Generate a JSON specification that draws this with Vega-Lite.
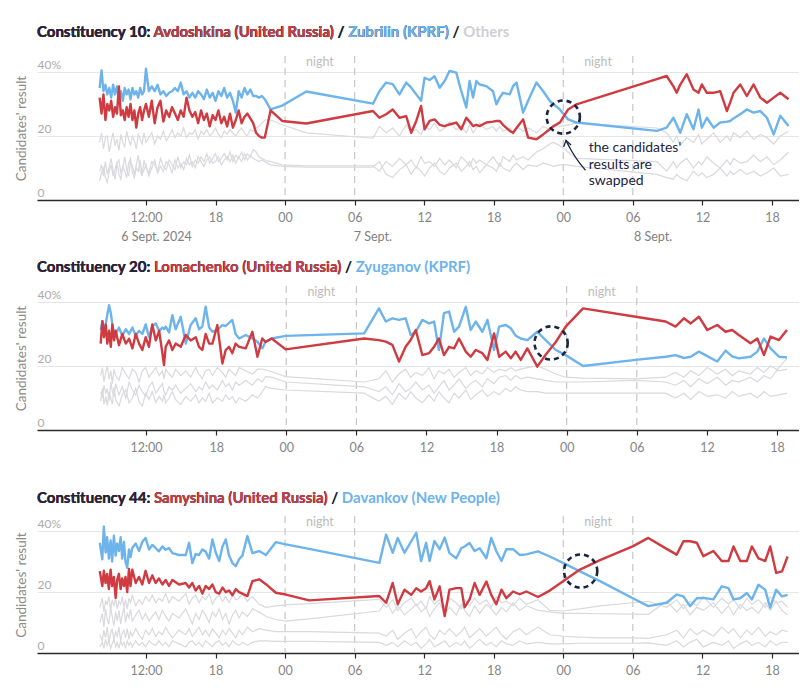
{
"$schema":"https://vega.github.io/schema/vega-lite/v6.json",
"background":"white",
"padding":{"left":14,"top":24,"right":0,"bottom":4},
"config":{"view":{"stroke":null},"font":"Lato","axis":{"labelFont":"Lato","titleFont":"Lato"},"text":{"font":"Lato"}},
"spacing":86,
"bounds":"flush",
"datasets":{
"one":[{"k":1}],
"nights":[{"t":"2024-09-07T00:00Z"},{"t":"2024-09-07T06:00Z"},{"t":"2024-09-08T00:00Z"},{"t":"2024-09-08T06:00Z"}],
"nightlbl":[{"t":"2024-09-07T03:00Z","l":"night"},{"t":"2024-09-08T03:00Z","l":"night"}],
"arr":[{"t":"2024-09-08T00:14Z","v":18.6},{"t":"2024-09-08T00:40Z","v":15.5},{"t":"2024-09-08T01:20Z","v":11.8},{"t":"2024-09-08T01:55Z","v":9.3}],
"arrh":[{"t":"2024-09-08T00:02Z","v":16.6},{"t":"2024-09-08T00:14Z","v":18.6},{"t":"2024-09-08T00:40Z","v":17.2}],
"titles":[
{"p":10,"s":"Constituency 10: Avdoshkina (United Russia) / Zubrilin (KPRF) / Others","r":"o"},
{"p":10,"s":"Constituency 10: Avdoshkina (United Russia) / Zubrilin (KPRF) /","r":"sep"},
{"p":10,"s":"Constituency 10: Avdoshkina (United Russia) / Zubrilin (KPRF)","r":"b"},
{"p":10,"s":"Constituency 10: Avdoshkina (United Russia) /","r":"sep"},
{"p":10,"s":"Constituency 10: Avdoshkina (United Russia)","r":"a"},
{"p":10,"s":"Constituency 10:","r":"head"},
{"p":20,"s":"Constituency 20: Lomachenko (United Russia) / Zyuganov (KPRF)","r":"b"},
{"p":20,"s":"Constituency 20: Lomachenko (United Russia) /","r":"sep"},
{"p":20,"s":"Constituency 20: Lomachenko (United Russia)","r":"a"},
{"p":20,"s":"Constituency 20:","r":"head"},
{"p":44,"s":"Constituency 44: Samyshina (United Russia) / Davankov (New People)","r":"b"},
{"p":44,"s":"Constituency 44: Samyshina (United Russia) /","r":"sep"},
{"p":44,"s":"Constituency 44: Samyshina (United Russia)","r":"a"},
{"p":44,"s":"Constituency 44:","r":"head"}
],
"c10":[
{"t":"2024-09-06T08:00Z","a":32,"b":35,"c":18,"d":9,"e":6},
{"t":"2024-09-06T08:10Z","a":27,"b":40.5,"c":21,"d":11,"e":8.5},
{"t":"2024-09-06T08:20Z","a":33,"b":34,"c":16,"d":7.5,"e":10},
{"t":"2024-09-06T08:30Z","a":25,"b":36,"c":19.5,"d":12,"e":7},
{"t":"2024-09-06T08:40Z","a":30,"b":33,"c":20,"d":8,"e":5.5},
{"t":"2024-09-06T08:50Z","a":28,"b":35,"c":15,"d":10.5,"e":9},
{"t":"2024-09-06T09:00Z","a":31,"b":32,"c":18.5,"d":13,"e":11},
{"t":"2024-09-06T09:10Z","a":26,"b":36,"c":21,"d":9,"e":7.5},
{"t":"2024-09-06T09:20Z","a":29,"b":33,"c":17,"d":6.5,"e":9.5},
{"t":"2024-09-06T09:30Z","a":27,"b":35.5,"c":19,"d":11.5,"e":12},
{"t":"2024-09-06T09:40Z","a":35.5,"b":32,"c":15.5,"d":12.5,"e":8},
{"t":"2024-09-06T09:50Z","a":26.5,"b":34,"c":20.5,"d":8.5,"e":6.5},
{"t":"2024-09-06T10:00Z","a":28,"b":31,"c":18,"d":10,"e":10.5},
{"t":"2024-09-06T10:10Z","a":25,"b":35,"c":16.5,"d":13.5,"e":9},
{"t":"2024-09-06T10:20Z","a":29,"b":33,"c":21.5,"d":9.5,"e":7},
{"t":"2024-09-06T10:30Z","a":26,"b":34.5,"c":19,"d":7.5,"e":11.5},
{"t":"2024-09-06T10:40Z","a":30,"b":31.5,"c":17,"d":12,"e":13},
{"t":"2024-09-06T10:50Z","a":25,"b":35,"c":20,"d":10.5,"e":8.5},
{"t":"2024-09-06T11:00Z","a":28,"b":33,"c":18.5,"d":8,"e":7},
{"t":"2024-09-06T11:10Z","a":22.6,"b":34,"c":16,"d":11,"e":10},
{"t":"2024-09-06T11:20Z","a":27,"b":32,"c":20.5,"d":14,"e":9},
{"t":"2024-09-06T11:30Z","a":29,"b":35,"c":19,"d":9,"e":12.5},
{"t":"2024-09-06T11:40Z","a":25,"b":33,"c":17.5,"d":7.5,"e":8},
{"t":"2024-09-06T11:50Z","a":28,"b":34,"c":21,"d":12.5,"e":9.5},
{"t":"2024-09-06T12:00Z","a":30,"b":41,"c":18,"d":10,"e":11},
{"t":"2024-09-06T12:15Z","a":26,"b":34,"c":19.5,"d":8.5,"e":7.5},
{"t":"2024-09-06T12:30Z","a":31,"b":35.5,"c":21,"d":12,"e":10},
{"t":"2024-09-06T12:45Z","a":24,"b":34,"c":17.5,"d":11,"e":12.5},
{"t":"2024-09-06T13:00Z","a":29,"b":36,"c":20,"d":9,"e":8.5},
{"t":"2024-09-06T13:15Z","a":31,"b":33,"c":19,"d":13,"e":10.5},
{"t":"2024-09-06T13:30Z","a":24.5,"b":34,"c":21.5,"d":10.5,"e":9},
{"t":"2024-09-06T13:45Z","a":28,"b":32.5,"c":18.5,"d":9.5,"e":12},
{"t":"2024-09-06T14:00Z","a":26,"b":33.5,"c":20,"d":12.5,"e":11},
{"t":"2024-09-06T14:15Z","a":29,"b":34,"c":22,"d":11,"e":8.5},
{"t":"2024-09-06T14:30Z","a":27,"b":35,"c":19.5,"d":9.5,"e":12.5},
{"t":"2024-09-06T14:45Z","a":25,"b":34,"c":21,"d":13.5,"e":10},
{"t":"2024-09-06T15:00Z","a":28,"b":36.7,"c":20,"d":10,"e":11.5},
{"t":"2024-09-06T15:15Z","a":26,"b":33,"c":22.5,"d":12,"e":9.5},
{"t":"2024-09-06T15:30Z","a":32,"b":34,"c":19.5,"d":11,"e":13},
{"t":"2024-09-06T15:45Z","a":28,"b":32,"c":21,"d":14,"e":11},
{"t":"2024-09-06T16:00Z","a":26,"b":33.5,"c":20.5,"d":10.5,"e":12},
{"t":"2024-09-06T16:15Z","a":27.5,"b":32,"c":22,"d":12.5,"e":10},
{"t":"2024-09-06T16:30Z","a":24,"b":34,"c":19,"d":11.5,"e":13.5},
{"t":"2024-09-06T16:45Z","a":28,"b":33,"c":21.5,"d":13.5,"e":12},
{"t":"2024-09-06T17:00Z","a":25,"b":31.5,"c":20.5,"d":12,"e":10.5},
{"t":"2024-09-06T17:15Z","a":27,"b":34.5,"c":22,"d":14.5,"e":12.5},
{"t":"2024-09-06T17:30Z","a":23,"b":32,"c":20,"d":11.5,"e":13.5},
{"t":"2024-09-06T17:45Z","a":26.5,"b":33.5,"c":21,"d":13,"e":11.5},
{"t":"2024-09-06T18:00Z","a":25,"b":31,"c":22.5,"d":14.5,"e":12},
{"t":"2024-09-06T18:15Z","a":28,"b":34,"c":20.5,"d":12,"e":13.5},
{"t":"2024-09-06T18:30Z","a":24,"b":32.5,"c":19.5,"d":13,"e":11},
{"t":"2024-09-06T18:45Z","a":26,"b":35,"c":21.5,"d":14.5,"e":12.5},
{"t":"2024-09-06T19:00Z","a":23,"b":32,"c":20.5,"d":12.5,"e":13.5},
{"t":"2024-09-06T19:15Z","a":27,"b":33.5,"c":22,"d":15,"e":12},
{"t":"2024-09-06T19:30Z","a":22.6,"b":31,"c":21,"d":12,"e":14},
{"t":"2024-09-06T19:45Z","a":25,"b":27.3,"c":20,"d":14,"e":11.5},
{"t":"2024-09-06T20:00Z","a":28,"b":34,"c":21.5,"d":13,"e":13.5},
{"t":"2024-09-06T20:15Z","a":24,"b":32,"c":22.5,"d":15,"e":12},
{"t":"2024-09-06T20:30Z","a":26,"b":35,"c":21,"d":12.5,"e":14.5},
{"t":"2024-09-06T20:45Z","a":27,"b":33,"c":20,"d":14.5,"e":12.5},
{"t":"2024-09-06T21:00Z","a":25.5,"b":34.5,"c":22,"d":13.5,"e":14},
{"t":"2024-09-06T21:15Z","a":24,"b":32.5,"c":21.5,"d":15.8,"e":13},
{"t":"2024-09-06T21:30Z","a":21,"b":32.5,"c":22.5,"d":15,"e":12.5},
{"t":"2024-09-06T21:45Z","a":20,"b":32,"c":23,"d":13.5,"e":12},
{"t":"2024-09-06T22:00Z","a":19.5,"b":32.5,"c":24,"d":13,"e":12.5},
{"t":"2024-09-06T22:15Z","a":19.5,"b":31.5,"c":25,"d":12.5,"e":12},
{"t":"2024-09-06T22:45Z","a":28,"b":28.3,"c":25,"d":12,"e":11},
{"t":"2024-09-06T23:45Z","a":24.7,"b":29.5,"c":23.5,"d":11,"e":10.5},
{"t":"2024-09-07T01:50Z","a":23.9,"b":33.9,"c":21,"d":10.7,"e":10.3},
{"t":"2024-09-07T07:35Z","a":27.8,"b":30.1,"c":19.3,"d":10.7,"e":10.3},
{"t":"2024-09-07T08:08Z","a":25.7,"b":34,"c":23,"d":9,"e":12},
{"t":"2024-09-07T08:43Z","a":26.8,"b":36.7,"c":21,"d":12,"e":8},
{"t":"2024-09-07T09:17Z","a":28.3,"b":36.2,"c":22.5,"d":10.5,"e":7},
{"t":"2024-09-07T09:52Z","a":25.7,"b":33,"c":20,"d":13,"e":9.5},
{"t":"2024-09-07T10:27Z","a":26.2,"b":36.7,"c":23.5,"d":11,"e":11},
{"t":"2024-09-07T10:53Z","a":21,"b":35.1,"c":21.5,"d":12.5,"e":8},
{"t":"2024-09-07T11:19Z","a":24.7,"b":33,"c":22,"d":10,"e":10.5},
{"t":"2024-09-07T11:44Z","a":29.4,"b":31,"c":20.5,"d":13.5,"e":9},
{"t":"2024-09-07T12:02Z","a":22.1,"b":38.2,"c":23,"d":11.5,"e":7.5},
{"t":"2024-09-07T12:28Z","a":24.7,"b":37.5,"c":22,"d":12,"e":10},
{"t":"2024-09-07T12:54Z","a":25.2,"b":38.7,"c":24,"d":10.5,"e":11.5},
{"t":"2024-09-07T13:20Z","a":23.5,"b":35.1,"c":21.5,"d":13,"e":9},
{"t":"2024-09-07T13:46Z","a":23.1,"b":37.2,"c":22.5,"d":11,"e":8},
{"t":"2024-09-07T14:11Z","a":23.6,"b":40.3,"c":24.5,"d":12.5,"e":10},
{"t":"2024-09-07T14:46Z","a":24.2,"b":39.8,"c":22,"d":10,"e":11.5},
{"t":"2024-09-07T15:12Z","a":22.1,"b":34,"c":23,"d":13.5,"e":9},
{"t":"2024-09-07T15:38Z","a":25.7,"b":28.9,"c":21,"d":12,"e":10.5},
{"t":"2024-09-07T15:55Z","a":24.5,"b":37.2,"c":23.5,"d":10.5,"e":12},
{"t":"2024-09-07T16:13Z","a":23.1,"b":32,"c":21,"d":13,"e":9.5},
{"t":"2024-09-07T16:30Z","a":23.5,"b":37.2,"c":22.5,"d":11.5,"e":10.5},
{"t":"2024-09-07T16:47Z","a":23.1,"b":36.1,"c":24,"d":12.5,"e":8.5},
{"t":"2024-09-07T17:22Z","a":24.2,"b":35.6,"c":22,"d":11,"e":11},
{"t":"2024-09-07T17:56Z","a":24.5,"b":34,"c":23,"d":13.5,"e":10},
{"t":"2024-09-07T18:14Z","a":24.7,"b":29.9,"c":21.5,"d":12,"e":9},
{"t":"2024-09-07T18:31Z","a":24.7,"b":32,"c":23,"d":10.5,"e":11.5},
{"t":"2024-09-07T18:48Z","a":23.5,"b":33.5,"c":21.5,"d":13.5,"e":10},
{"t":"2024-09-07T19:23Z","a":21.6,"b":33,"c":22.5,"d":12,"e":9},
{"t":"2024-09-07T19:40Z","a":21,"b":35.6,"c":20.5,"d":14,"e":10.5},
{"t":"2024-09-07T19:58Z","a":22.5,"b":36.7,"c":23,"d":12.5,"e":11.5},
{"t":"2024-09-07T20:32Z","a":25.2,"b":27.3,"c":21.5,"d":13.5,"e":9.5},
{"t":"2024-09-07T20:58Z","a":19.5,"b":31,"c":22.5,"d":12.5,"e":11},
{"t":"2024-09-07T21:41Z","a":19,"b":36.7,"c":21,"d":15,"e":10.5},
{"t":"2024-09-07T22:16Z","a":20.5,"b":34,"c":23,"d":16,"e":11.5},
{"t":"2024-09-07T22:50Z","a":22.1,"b":31,"c":22,"d":17.5,"e":11},
{"t":"2024-09-07T23:08Z","a":23,"b":30,"c":23.5,"d":18,"e":10.5},
{"t":"2024-09-07T23:42Z","a":24.2,"b":28.3,"c":23,"d":17,"e":11},
{"t":"2024-09-08T00:25Z","a":28.3,"b":25.2,"c":23.5,"d":15,"e":11},
{"t":"2024-09-08T01:08Z","a":29.9,"b":24.2,"c":24,"d":13,"e":10.5},
{"t":"2024-09-08T08:04Z","a":37.8,"b":21.6,"c":22.5,"d":12,"e":8},
{"t":"2024-09-08T08:55Z","a":38.75,"b":22.6,"c":21,"d":9,"e":7},
{"t":"2024-09-08T09:30Z","a":35.5,"b":25.7,"c":18,"d":12,"e":6.5},
{"t":"2024-09-08T09:47Z","a":33.5,"b":23.5,"c":20,"d":10,"e":8},
{"t":"2024-09-08T10:05Z","a":36,"b":21,"c":17,"d":11.5,"e":7},
{"t":"2024-09-08T10:39Z","a":39.3,"b":26.8,"c":19.5,"d":13,"e":6},
{"t":"2024-09-08T11:14Z","a":34.5,"b":22.1,"c":18,"d":10,"e":9},
{"t":"2024-09-08T11:40Z","a":33.5,"b":28.3,"c":20.5,"d":12,"e":7.5},
{"t":"2024-09-08T11:57Z","a":36.1,"b":22.6,"c":17.5,"d":11,"e":8.5},
{"t":"2024-09-08T12:23Z","a":33.5,"b":25.7,"c":19,"d":13.5,"e":7},
{"t":"2024-09-08T12:58Z","a":33.5,"b":22.6,"c":21,"d":11.5,"e":8},
{"t":"2024-09-08T13:32Z","a":34,"b":24.2,"c":18,"d":10,"e":10},
{"t":"2024-09-08T14:07Z","a":27.8,"b":24.5,"c":20,"d":12.5,"e":7.5},
{"t":"2024-09-08T14:24Z","a":30.5,"b":24.7,"c":18.5,"d":11,"e":9},
{"t":"2024-09-08T14:41Z","a":33.5,"b":25.5,"c":21,"d":13,"e":8},
{"t":"2024-09-08T15:16Z","a":36.1,"b":26.8,"c":19.5,"d":11.5,"e":9.5},
{"t":"2024-09-08T15:50Z","a":32.5,"b":28.3,"c":21.5,"d":12,"e":8},
{"t":"2024-09-08T16:25Z","a":36.1,"b":27.3,"c":19,"d":14,"e":9},
{"t":"2024-09-08T17:00Z","a":32,"b":27.8,"c":20.5,"d":12,"e":7.5},
{"t":"2024-09-08T17:34Z","a":30.4,"b":25.7,"c":19.5,"d":13.5,"e":8.5},
{"t":"2024-09-08T18:09Z","a":32,"b":20.5,"c":17.5,"d":11,"e":10},
{"t":"2024-09-08T18:43Z","a":33.5,"b":26.3,"c":20,"d":12.5,"e":7.5},
{"t":"2024-09-08T19:26Z","a":31.5,"b":23.1,"c":21.5,"d":15,"e":8}
],
"c20":[
{"t":"2024-09-06T08:07Z","a":27,"b":31.25,"c":17,"d":12,"e":9},
{"t":"2024-09-06T08:16Z","a":34,"b":34,"c":19.5,"d":10,"e":13},
{"t":"2024-09-06T08:24Z","a":29,"b":30,"c":15,"d":14,"e":8},
{"t":"2024-09-06T08:33Z","a":33,"b":33,"c":18,"d":11.5,"e":10.5},
{"t":"2024-09-06T08:41Z","a":27,"b":36,"c":20,"d":13,"e":7.5},
{"t":"2024-09-06T08:50Z","a":31,"b":39,"c":16,"d":9,"e":12},
{"t":"2024-09-06T08:59Z","a":26,"b":36.5,"c":18.5,"d":15,"e":10},
{"t":"2024-09-06T09:07Z","a":33,"b":33,"c":14.5,"d":12,"e":8},
{"t":"2024-09-06T09:16Z","a":28,"b":30.5,"c":19,"d":10.5,"e":13.5},
{"t":"2024-09-06T09:24Z","a":31,"b":30,"c":17,"d":14.5,"e":9.5},
{"t":"2024-09-06T09:41Z","a":26.5,"b":32,"c":15.5,"d":11,"e":7.5},
{"t":"2024-09-06T09:58Z","a":30,"b":29.5,"c":19.5,"d":13.5,"e":11},
{"t":"2024-09-06T10:16Z","a":27,"b":31.5,"c":17.5,"d":10,"e":12.5},
{"t":"2024-09-06T10:33Z","a":28.5,"b":30,"c":16,"d":15,"e":8.5},
{"t":"2024-09-06T10:50Z","a":25.5,"b":32,"c":19,"d":12.5,"e":10},
{"t":"2024-09-06T11:07Z","a":30,"b":29.5,"c":18,"d":11,"e":13},
{"t":"2024-09-06T11:24Z","a":27,"b":31,"c":15,"d":14,"e":9},
{"t":"2024-09-06T11:41Z","a":25,"b":30,"c":18.5,"d":12,"e":7.5},
{"t":"2024-09-06T11:58Z","a":29,"b":33,"c":19.5,"d":10.5,"e":11.5},
{"t":"2024-09-06T12:15Z","a":26,"b":29,"c":16.5,"d":13.5,"e":9.5},
{"t":"2024-09-06T12:32Z","a":33,"b":32.5,"c":18,"d":15,"e":12},
{"t":"2024-09-06T12:50Z","a":28,"b":33.3,"c":19.5,"d":11.5,"e":8.5},
{"t":"2024-09-06T13:07Z","a":31,"b":31,"c":17,"d":13,"e":10.5},
{"t":"2024-09-06T13:24Z","a":24,"b":32,"c":18.5,"d":14.5,"e":9},
{"t":"2024-09-06T13:32Z","a":20.3,"b":31.5,"c":16,"d":12,"e":11},
{"t":"2024-09-06T13:41Z","a":26,"b":32.3,"c":19,"d":11,"e":8.5},
{"t":"2024-09-06T13:58Z","a":28,"b":30.5,"c":17.5,"d":13.5,"e":10},
{"t":"2024-09-06T14:15Z","a":25,"b":35.9,"c":16.5,"d":12.5,"e":12},
{"t":"2024-09-06T14:32Z","a":27,"b":31.5,"c":19,"d":14,"e":9.5},
{"t":"2024-09-06T14:58Z","a":26,"b":35.4,"c":17,"d":11.5,"e":8},
{"t":"2024-09-06T15:24Z","a":29.7,"b":27,"c":18.5,"d":13,"e":10.5},
{"t":"2024-09-06T15:49Z","a":28,"b":32.8,"c":16.5,"d":14.5,"e":9},
{"t":"2024-09-06T16:15Z","a":29,"b":34.9,"c":19.5,"d":12,"e":11},
{"t":"2024-09-06T16:32Z","a":26,"b":31.5,"c":17.5,"d":13.5,"e":8.5},
{"t":"2024-09-06T16:49Z","a":25,"b":32.3,"c":16,"d":12.5,"e":10},
{"t":"2024-09-06T17:06Z","a":30,"b":38.5,"c":18.5,"d":15,"e":9},
{"t":"2024-09-06T17:24Z","a":27,"b":32,"c":19,"d":13,"e":11.5},
{"t":"2024-09-06T17:41Z","a":27,"b":30.7,"c":17,"d":14,"e":8.5},
{"t":"2024-09-06T18:06Z","a":32.8,"b":31.25,"c":19.5,"d":12.5,"e":10},
{"t":"2024-09-06T18:32Z","a":20.8,"b":32.8,"c":18,"d":15.5,"e":9},
{"t":"2024-09-06T18:49Z","a":25,"b":32.5,"c":16.5,"d":13.5,"e":11},
{"t":"2024-09-06T19:06Z","a":26,"b":33.5,"c":19,"d":14.5,"e":9.5},
{"t":"2024-09-06T19:23Z","a":24,"b":34.4,"c":18,"d":12.5,"e":10.5},
{"t":"2024-09-06T19:40Z","a":27,"b":30,"c":17,"d":15,"e":8.5},
{"t":"2024-09-06T19:58Z","a":26,"b":28.6,"c":19.5,"d":14,"e":10},
{"t":"2024-09-06T20:32Z","a":25.5,"b":29.7,"c":18.5,"d":15.5,"e":9},
{"t":"2024-09-06T21:06Z","a":30.7,"b":28.6,"c":17.5,"d":14,"e":11},
{"t":"2024-09-06T21:32Z","a":22.9,"b":27.6,"c":19,"d":16,"e":10},
{"t":"2024-09-06T21:57Z","a":28.6,"b":25.5,"c":19,"d":15,"e":12},
{"t":"2024-09-06T22:14Z","a":27.5,"b":27.6,"c":18.75,"d":16.7,"e":13.5},
{"t":"2024-09-06T22:45Z","a":28.6,"b":28.6,"c":18.2,"d":16.5,"e":13},
{"t":"2024-09-06T23:57Z","a":25.2,"b":29.4,"c":16.7,"d":15,"e":12.5},
{"t":"2024-09-07T06:40Z","a":28.6,"b":30.2,"c":15,"d":13.5,"e":11.5},
{"t":"2024-09-07T07:56Z","a":28.1,"b":38,"c":16,"d":12,"e":9},
{"t":"2024-09-07T08:31Z","a":27.6,"b":33.9,"c":18.5,"d":13.5,"e":10.5},
{"t":"2024-09-07T09:05Z","a":26.6,"b":34.9,"c":15,"d":11,"e":8},
{"t":"2024-09-07T09:39Z","a":21.4,"b":34.4,"c":17.5,"d":14.5,"e":11.5},
{"t":"2024-09-07T10:13Z","a":26,"b":34.9,"c":19,"d":12,"e":9.5},
{"t":"2024-09-07T10:39Z","a":28.1,"b":29.7,"c":16.5,"d":13,"e":12},
{"t":"2024-09-07T11:05Z","a":31.25,"b":30.7,"c":18,"d":15,"e":10},
{"t":"2024-09-07T11:39Z","a":23.4,"b":34.4,"c":17,"d":12.5,"e":8.5},
{"t":"2024-09-07T12:13Z","a":24,"b":33.3,"c":19.5,"d":14,"e":11},
{"t":"2024-09-07T12:39Z","a":26,"b":33.9,"c":16,"d":11.5,"e":9},
{"t":"2024-09-07T13:04Z","a":28.6,"b":25,"c":18.5,"d":13.5,"e":12},
{"t":"2024-09-07T13:30Z","a":23.4,"b":36.5,"c":17.5,"d":15.5,"e":10},
{"t":"2024-09-07T13:56Z","a":26,"b":37,"c":19,"d":12.5,"e":8.5},
{"t":"2024-09-07T14:22Z","a":25.5,"b":30.7,"c":16.5,"d":14,"e":11.5},
{"t":"2024-09-07T14:47Z","a":28.6,"b":32.3,"c":18,"d":16,"e":10},
{"t":"2024-09-07T15:22Z","a":24.5,"b":38.5,"c":19.5,"d":13,"e":12.5},
{"t":"2024-09-07T15:47Z","a":22.9,"b":31.25,"c":17,"d":14.5,"e":9.5},
{"t":"2024-09-07T16:13Z","a":25,"b":33.9,"c":18.5,"d":15.5,"e":11},
{"t":"2024-09-07T16:47Z","a":24,"b":30.7,"c":17.5,"d":13.5,"e":12.5},
{"t":"2024-09-07T17:13Z","a":21.9,"b":34.4,"c":19.5,"d":16,"e":10.5},
{"t":"2024-09-07T17:47Z","a":30.2,"b":25,"c":18,"d":14.5,"e":12},
{"t":"2024-09-07T18:13Z","a":22.9,"b":32.3,"c":19,"d":16.5,"e":11},
{"t":"2024-09-07T18:47Z","a":24.5,"b":32.8,"c":18.5,"d":17,"e":13},
{"t":"2024-09-07T19:13Z","a":22.4,"b":31.8,"c":19.5,"d":15.5,"e":12},
{"t":"2024-09-07T19:38Z","a":24.5,"b":29.5,"c":18.5,"d":17,"e":13.5},
{"t":"2024-09-07T20:04Z","a":21.9,"b":28.6,"c":19,"d":16,"e":12.5},
{"t":"2024-09-07T20:38Z","a":25.5,"b":28.1,"c":19.5,"d":16.5,"e":12},
{"t":"2024-09-07T21:29Z","a":19.8,"b":30.7,"c":20,"d":16,"e":12},
{"t":"2024-09-07T22:12Z","a":23.5,"b":28.1,"c":19,"d":15.5,"e":11.5},
{"t":"2024-09-07T23:04Z","a":27.5,"b":25,"c":17.5,"d":15,"e":11.5},
{"t":"2024-09-07T23:55Z","a":32.3,"b":23.4,"c":16.5,"d":15,"e":11.5},
{"t":"2024-09-08T01:24Z","a":38,"b":20,"c":16.2,"d":15,"e":11.5},
{"t":"2024-09-08T05:54Z","a":35.4,"b":21.9,"c":16,"d":15.5,"e":11.5},
{"t":"2024-09-08T08:28Z","a":33.9,"b":22.9,"c":16.5,"d":15,"e":11.5},
{"t":"2024-09-08T09:19Z","a":32.3,"b":23.4,"c":18,"d":14,"e":10},
{"t":"2024-09-08T10:02Z","a":34.9,"b":22.5,"c":16.5,"d":15.5,"e":11.5},
{"t":"2024-09-08T10:37Z","a":33.3,"b":22.9,"c":18.5,"d":13.5,"e":9.5},
{"t":"2024-09-08T11:19Z","a":35.4,"b":24.5,"c":17,"d":16,"e":12},
{"t":"2024-09-08T12:02Z","a":31.25,"b":23.1,"c":19.5,"d":14.5,"e":10.5},
{"t":"2024-09-08T12:53Z","a":32.8,"b":21.4,"c":17.5,"d":16.5,"e":11},
{"t":"2024-09-08T13:36Z","a":30.7,"b":24.8,"c":19,"d":14,"e":10},
{"t":"2024-09-08T14:10Z","a":31.25,"b":23,"c":17,"d":15.5,"e":12},
{"t":"2024-09-08T14:44Z","a":29.7,"b":22.4,"c":18.5,"d":15,"e":10.5},
{"t":"2024-09-08T15:44Z","a":27.1,"b":22.9,"c":17.5,"d":16.5,"e":11.5},
{"t":"2024-09-08T16:19Z","a":28.6,"b":24.5,"c":19.5,"d":15,"e":10},
{"t":"2024-09-08T16:53Z","a":23.4,"b":28.6,"c":18,"d":17,"e":12},
{"t":"2024-09-08T17:27Z","a":29.2,"b":25.5,"c":20,"d":16,"e":10.5},
{"t":"2024-09-08T18:10Z","a":28.1,"b":22.9,"c":18.5,"d":19.5,"e":11},
{"t":"2024-09-08T18:51Z","a":31.25,"b":22.7,"c":19,"d":22.4,"e":11.5}
],
"c44":[
{"t":"2024-09-06T08:01Z","a":26.9,"b":36.2,"c":15,"d":10,"e":6,"f":2},
{"t":"2024-09-06T08:14Z","a":22,"b":30.8,"c":18,"d":13,"e":4,"f":3.5},
{"t":"2024-09-06T08:22Z","a":27,"b":41.6,"c":13.5,"d":8.5,"e":7.5,"f":1.5},
{"t":"2024-09-06T08:31Z","a":23,"b":33,"c":17,"d":14.5,"e":5,"f":4.5},
{"t":"2024-09-06T08:39Z","a":26,"b":38,"c":16,"d":11,"e":8.5,"f":2.5},
{"t":"2024-09-06T08:48Z","a":21,"b":31,"c":18.5,"d":9.5,"e":3.5,"f":4},
{"t":"2024-09-06T08:57Z","a":27.4,"b":37,"c":14,"d":15,"e":6.5,"f":1.5},
{"t":"2024-09-06T09:05Z","a":22,"b":30,"c":17.5,"d":12,"e":8,"f":3},
{"t":"2024-09-06T09:14Z","a":25,"b":38.5,"c":15.5,"d":9,"e":4.5,"f":4.5},
{"t":"2024-09-06T09:23Z","a":18.1,"b":32,"c":18,"d":13.5,"e":7,"f":2},
{"t":"2024-09-06T09:31Z","a":24,"b":36,"c":14.5,"d":10.5,"e":5.5,"f":3.5},
{"t":"2024-09-06T09:40Z","a":26,"b":33.5,"c":17,"d":14,"e":8.5,"f":1.5},
{"t":"2024-09-06T09:49Z","a":21,"b":38,"c":16,"d":9.5,"e":4,"f":4},
{"t":"2024-09-06T09:57Z","a":24.5,"b":31,"c":18.5,"d":12.5,"e":6.5,"f":2.5},
{"t":"2024-09-06T10:06Z","a":22,"b":36.5,"c":15,"d":15,"e":7.5,"f":3.5},
{"t":"2024-09-06T10:14Z","a":25,"b":30,"c":17.5,"d":10,"e":5,"f":1.5},
{"t":"2024-09-06T10:23Z","a":20,"b":28,"c":14.5,"d":13,"e":8,"f":4},
{"t":"2024-09-06T10:32Z","a":27.6,"b":34,"c":18,"d":11.5,"e":4.5,"f":2.5},
{"t":"2024-09-06T10:40Z","a":22,"b":31.5,"c":16.5,"d":14.5,"e":7,"f":3.5},
{"t":"2024-09-06T10:49Z","a":27.4,"b":34.5,"c":19,"d":10.5,"e":5.5,"f":2},
{"t":"2024-09-06T11:07Z","a":23,"b":36,"c":15.5,"d":12.5,"e":8,"f":4},
{"t":"2024-09-06T11:24Z","a":25,"b":33.5,"c":17.5,"d":14,"e":6,"f":2.5},
{"t":"2024-09-06T11:41Z","a":22.5,"b":36.5,"c":16,"d":11,"e":4.5,"f":3.5},
{"t":"2024-09-06T11:58Z","a":27,"b":37.8,"c":18.5,"d":13,"e":7.5,"f":2},
{"t":"2024-09-06T12:16Z","a":23,"b":34,"c":17,"d":10.5,"e":6,"f":4},
{"t":"2024-09-06T12:33Z","a":25.5,"b":35.5,"c":19,"d":12,"e":8,"f":3},
{"t":"2024-09-06T12:50Z","a":23,"b":34.5,"c":16.5,"d":13.5,"e":5.5,"f":2.5},
{"t":"2024-09-06T13:07Z","a":24.5,"b":33.4,"c":18,"d":11,"e":7,"f":4},
{"t":"2024-09-06T13:25Z","a":22.5,"b":35,"c":17,"d":14,"e":6,"f":2.5},
{"t":"2024-09-06T13:42Z","a":24,"b":33.9,"c":19.5,"d":12,"e":8.5,"f":3.5},
{"t":"2024-09-06T13:59Z","a":22,"b":34.5,"c":16.5,"d":10.5,"e":6.5,"f":2},
{"t":"2024-09-06T14:17Z","a":24,"b":32.8,"c":18.5,"d":13,"e":5,"f":4},
{"t":"2024-09-06T14:51Z","a":22.5,"b":32.2,"c":17,"d":11.5,"e":7.5,"f":3},
{"t":"2024-09-06T15:26Z","a":23,"b":32.2,"c":19.5,"d":14.5,"e":6,"f":2},
{"t":"2024-09-06T15:43Z","a":21.5,"b":36.2,"c":16,"d":12,"e":8,"f":3.5},
{"t":"2024-09-06T16:00Z","a":23,"b":29.5,"c":18,"d":9.5,"e":5.5,"f":4},
{"t":"2024-09-06T16:17Z","a":20.5,"b":32.5,"c":19,"d":13,"e":7,"f":2.5},
{"t":"2024-09-06T16:35Z","a":22,"b":32.2,"c":16.5,"d":11,"e":8.5,"f":3.5},
{"t":"2024-09-06T16:52Z","a":19.5,"b":34,"c":18.5,"d":14,"e":6,"f":2},
{"t":"2024-09-06T17:09Z","a":22,"b":33.3,"c":17.5,"d":12.5,"e":7.5,"f":4},
{"t":"2024-09-06T17:27Z","a":21,"b":31,"c":19.5,"d":10,"e":5.5,"f":3},
{"t":"2024-09-06T17:44Z","a":22.5,"b":37.3,"c":16,"d":13.5,"e":8,"f":2},
{"t":"2024-09-06T18:01Z","a":20,"b":33,"c":18,"d":12,"e":6.5,"f":3.5},
{"t":"2024-09-06T18:19Z","a":19.5,"b":30.2,"c":19,"d":14.5,"e":5,"f":4},
{"t":"2024-09-06T18:36Z","a":21.5,"b":35,"c":17,"d":11,"e":7.5,"f":2.5},
{"t":"2024-09-06T18:53Z","a":20,"b":37.3,"c":18.5,"d":13,"e":6,"f":3.5},
{"t":"2024-09-06T19:10Z","a":20.5,"b":32,"c":16.5,"d":9.5,"e":8,"f":2},
{"t":"2024-09-06T19:28Z","a":19,"b":29.5,"c":19,"d":12.5,"e":6.5,"f":4},
{"t":"2024-09-06T19:45Z","a":21,"b":28.5,"c":17.5,"d":14,"e":5,"f":3},
{"t":"2024-09-06T20:02Z","a":20,"b":30.8,"c":18,"d":11.5,"e":7.5,"f":2.5},
{"t":"2024-09-06T20:19Z","a":19.5,"b":32,"c":19.5,"d":13.5,"e":6,"f":3.5},
{"t":"2024-09-06T20:45Z","a":18.7,"b":38.4,"c":17,"d":12,"e":8.5,"f":2.5},
{"t":"2024-09-06T21:11Z","a":23.6,"b":32.8,"c":18.5,"d":14.5,"e":7,"f":3.5},
{"t":"2024-09-06T21:46Z","a":24.2,"b":33.5,"c":16,"d":13.5,"e":8,"f":4},
{"t":"2024-09-06T22:21Z","a":22.6,"b":32.2,"c":15,"d":12,"e":7.5,"f":4},
{"t":"2024-09-06T23:12Z","a":19.8,"b":36.4,"c":15.5,"d":11,"e":7,"f":3.8},
{"t":"2024-09-07T00:04Z","a":19.2,"b":35.7,"c":15.8,"d":10.5,"e":7,"f":3.8},
{"t":"2024-09-07T02:05Z","a":17.3,"b":34.2,"c":16.2,"d":11.2,"e":7,"f":3.8},
{"t":"2024-09-07T08:08Z","a":18.7,"b":29.6,"c":17.6,"d":13.8,"e":6.5,"f":3.5},
{"t":"2024-09-07T08:43Z","a":16.5,"b":38.9,"c":15,"d":17,"e":5.5,"f":2.5},
{"t":"2024-09-07T09:17Z","a":23,"b":32.9,"c":17.5,"d":13,"e":7.5,"f":3.5},
{"t":"2024-09-07T09:43Z","a":16,"b":37.8,"c":14,"d":15.5,"e":4.5,"f":2},
{"t":"2024-09-07T10:18Z","a":20.8,"b":32.9,"c":16.5,"d":12.5,"e":6.5,"f":4},
{"t":"2024-09-07T10:53Z","a":19.1,"b":36.7,"c":18,"d":14.5,"e":8,"f":2.5},
{"t":"2024-09-07T11:19Z","a":21.3,"b":39.5,"c":15.5,"d":16,"e":5,"f":3.5},
{"t":"2024-09-07T11:44Z","a":20.2,"b":30.2,"c":17,"d":13.5,"e":7,"f":1.5},
{"t":"2024-09-07T12:10Z","a":21.3,"b":36.2,"c":14.5,"d":15,"e":8.5,"f":3},
{"t":"2024-09-07T12:28Z","a":23.6,"b":30.2,"c":18.5,"d":12,"e":6,"f":4.5},
{"t":"2024-09-07T12:53Z","a":17.6,"b":36.8,"c":16,"d":14.5,"e":4.5,"f":2},
{"t":"2024-09-07T13:20Z","a":21.9,"b":34.1,"c":17.5,"d":16.5,"e":7.5,"f":3},
{"t":"2024-09-07T13:46Z","a":12.1,"b":37.9,"c":15,"d":13,"e":6,"f":4},
{"t":"2024-09-07T14:11Z","a":20.8,"b":32.8,"c":18,"d":15,"e":8,"f":2},
{"t":"2024-09-07T14:46Z","a":21.3,"b":31.1,"c":16.5,"d":12.5,"e":5.5,"f":3.5},
{"t":"2024-09-07T15:12Z","a":21.3,"b":34.4,"c":14.5,"d":16,"e":7,"f":2.5},
{"t":"2024-09-07T15:29Z","a":15,"b":35,"c":17.5,"d":14,"e":8.5,"f":4},
{"t":"2024-09-07T15:55Z","a":17.6,"b":36.1,"c":15.5,"d":12,"e":5,"f":1.5},
{"t":"2024-09-07T16:21Z","a":23,"b":33.5,"c":18,"d":15.5,"e":6.5,"f":3},
{"t":"2024-09-07T16:47Z","a":19.1,"b":34.4,"c":16,"d":13,"e":8,"f":4.5},
{"t":"2024-09-07T17:22Z","a":23.5,"b":31.1,"c":17.5,"d":16,"e":5.5,"f":2.5},
{"t":"2024-09-07T17:47Z","a":19.1,"b":37.8,"c":15,"d":14.5,"e":7,"f":3.5},
{"t":"2024-09-07T18:13Z","a":16,"b":33.5,"c":18.5,"d":12.5,"e":8.5,"f":2},
{"t":"2024-09-07T18:40Z","a":20.8,"b":30.2,"c":16.5,"d":15,"e":6,"f":4},
{"t":"2024-09-07T19:05Z","a":18,"b":34.1,"c":17,"d":13.5,"e":4.5,"f":3},
{"t":"2024-09-07T19:40Z","a":20.2,"b":34.1,"c":15.5,"d":16.5,"e":7,"f":2.5},
{"t":"2024-09-07T20:14Z","a":19.3,"b":32.2,"c":18,"d":14,"e":8,"f":4},
{"t":"2024-09-07T20:49Z","a":20.2,"b":32.4,"c":16,"d":15.5,"e":6,"f":3},
{"t":"2024-09-07T21:49Z","a":18.4,"b":33.4,"c":17.5,"d":14,"e":8.5,"f":3.5},
{"t":"2024-09-07T22:50Z","a":20.5,"b":31.7,"c":14,"d":13.5,"e":6,"f":3},
{"t":"2024-09-07T23:59Z","a":23.6,"b":29.6,"c":13.8,"d":13,"e":5.5,"f":3},
{"t":"2024-09-08T01:26Z","a":27.4,"b":26.8,"c":14.5,"d":13,"e":5.2,"f":3.2},
{"t":"2024-09-08T03:10Z","a":30.5,"b":23.6,"c":15.5,"d":12.9,"e":5,"f":3.2},
{"t":"2024-09-08T06:02Z","a":35.1,"b":17.9,"c":16.5,"d":12.8,"e":5,"f":3.2},
{"t":"2024-09-08T07:20Z","a":37.8,"b":15.4,"c":17,"d":12.7,"e":4.8,"f":3.3},
{"t":"2024-09-08T08:55Z","a":34.2,"b":16.5,"c":15,"d":17,"e":6,"f":2.5},
{"t":"2024-09-08T09:47Z","a":32.3,"b":19.2,"c":17.5,"d":13.5,"e":7.5,"f":4},
{"t":"2024-09-08T10:22Z","a":36.7,"b":18.6,"c":14.5,"d":16,"e":5,"f":2},
{"t":"2024-09-08T10:56Z","a":36.7,"b":15.4,"c":17,"d":12.5,"e":8,"f":3.5},
{"t":"2024-09-08T11:31Z","a":36.2,"b":18,"c":15.5,"d":15,"e":6,"f":4.5},
{"t":"2024-09-08T12:05Z","a":31.8,"b":18.1,"c":18.5,"d":14,"e":7.5,"f":2},
{"t":"2024-09-08T12:57Z","a":33.5,"b":17.6,"c":15,"d":16.5,"e":5.5,"f":3.5},
{"t":"2024-09-08T13:40Z","a":30.2,"b":21.9,"c":18,"d":13,"e":8.5,"f":2.5},
{"t":"2024-09-08T14:15Z","a":30.2,"b":21.3,"c":16,"d":15.5,"e":6.5,"f":4},
{"t":"2024-09-08T14:41Z","a":35,"b":17.6,"c":17.5,"d":12.5,"e":8,"f":1.5},
{"t":"2024-09-08T15:16Z","a":30.2,"b":18,"c":14.5,"d":16,"e":5,"f":3},
{"t":"2024-09-08T15:50Z","a":30.2,"b":19.7,"c":18,"d":14,"e":7.5,"f":4},
{"t":"2024-09-08T16:16Z","a":35,"b":17.6,"c":16,"d":15,"e":6,"f":2.5},
{"t":"2024-09-08T16:50Z","a":31.1,"b":22.4,"c":17.5,"d":13,"e":8.5,"f":3.5},
{"t":"2024-09-08T17:25Z","a":30.2,"b":20.8,"c":15,"d":16.5,"e":5.5,"f":2},
{"t":"2024-09-08T17:51Z","a":35,"b":14.9,"c":18.5,"d":14,"e":7,"f":4},
{"t":"2024-09-08T18:22Z","a":26.3,"b":20.8,"c":16.5,"d":17,"e":6,"f":2.5},
{"t":"2024-09-08T18:52Z","a":26.8,"b":18.6,"c":17,"d":14,"e":7.5,"f":3.5},
{"t":"2024-09-08T19:21Z","a":31.7,"b":19.1,"c":15,"d":12.5,"e":7,"f":3.5}
]
},
"vconcat":[
{
"width":762,"height":144,
"resolve":{"axis":{"x":"independent","y":"independent"}},
"layer":[
{"data":{"name":"nights"},
 "mark":{"type":"rule","strokeDash":[7,5],"color":"#c6c6c6","strokeWidth":1.2},
 "encoding":{"x":{"field":"t","type":"temporal",
   "scale":{"type":"utc","domain":[{"year":2024,"month":9,"date":6,"hours":2,"minutes":36,"utc":true},{"year":2024,"month":9,"date":8,"hours":20,"minutes":20,"utc":true}]},
   "axis":{"orient":"bottom","values":[{"year":2024,"month":9,"date":6,"hours":12,"minutes":52,"utc":true},{"year":2024,"month":9,"date":7,"hours":7,"minutes":32,"utc":true},{"year":2024,"month":9,"date":8,"hours":7,"minutes":42,"utc":true}],
     "labelExpr":"utcdate(datum.value) == 6 ? '6 Sept. 2024' : utcdate(datum.value) + ' Sept.'",
     "domain":false,"ticks":false,"tickSize":0,"grid":false,"labelColor":"#808080","labelFontSize":12.5,"labelPadding":11,"offset":19,"title":null,"labelFlush":false}}}},
{"data":{"name":"nightlbl"},
 "mark":{"type":"text","color":"#bcbcbc","fontSize":12.5,"baseline":"middle"},
 "encoding":{"x":{"field":"t","type":"temporal","scale":{"type":"utc"},"axis":null},"y":{"datum":43,"type":"quantitative","axis":null},"text":{"field":"l"}}},
{"data":{"name":"c10"},
 "transform":[{"fold":["c","d","e"],"as":["k","v"]}],
 "mark":{"type":"line","color":"#d9d9de","strokeWidth":1.2},
 "encoding":{"x":{"field":"t","type":"temporal","scale":{"type":"utc"},"axis":null},"y":{"field":"v","type":"quantitative","axis":null},"detail":{"field":"k"}}},
{"data":{"name":"c10"},
 "mark":{"type":"line","color":"#6db3ec","strokeWidth":2.4,"strokeJoin":"round"},
 "encoding":{
  "x":{"field":"t","type":"temporal","scale":{"type":"utc"},
   "axis":{"orient":"bottom","values":[{"year":2024,"month":9,"date":6,"hours":12,"utc":true},{"year":2024,"month":9,"date":6,"hours":18,"utc":true},{"year":2024,"month":9,"date":7,"hours":0,"utc":true},{"year":2024,"month":9,"date":7,"hours":6,"utc":true},{"year":2024,"month":9,"date":7,"hours":12,"utc":true},{"year":2024,"month":9,"date":7,"hours":18,"utc":true},{"year":2024,"month":9,"date":8,"hours":0,"utc":true},{"year":2024,"month":9,"date":8,"hours":6,"utc":true},{"year":2024,"month":9,"date":8,"hours":12,"utc":true},{"year":2024,"month":9,"date":8,"hours":18,"utc":true}],
   "labelExpr":"utchours(datum.value) == 12 && utcdate(datum.value) == 6 ? '12:00' : utcFormat(datum.value, '%H')",
   "domainColor":"#2a2a2a","domainWidth":1.5,"tickColor":"#2a2a2a","tickSize":5,"tickWidth":1.2,"labelColor":"#858585","labelFontSize":12.5,"labelPadding":6,"grid":false,"title":null,"labelFlush":false}},
  "y":{"field":"b","type":"quantitative","scale":{"domain":[0,45]},
   "axis":{"values":[0,20,40],"labelExpr":"datum.value == 40 ? '40%' : datum.label","domain":false,"ticks":false,"tickSize":0,"labelAlign":"left","labelBaseline":"bottom","labelPadding":0,"labelOffset":-1,"labelColor":"#ababab","labelFontSize":12,"grid":true,"gridColor":"#e6e6e6","gridWidth":1,"title":"Candidates' result","titleColor":"#8a8a8a","titleFontSize":13.5,"titleFontWeight":"normal","titlePadding":9}}}},
{"data":{"name":"c10"},
 "mark":{"type":"line","color":"#cf3b41","strokeWidth":2.4,"strokeJoin":"round"},
 "encoding":{"x":{"field":"t","type":"temporal","scale":{"type":"utc"},"axis":null},"y":{"field":"a","type":"quantitative","axis":null}}},
{"data":{"name":"one"},
 "mark":{"type":"point","shape":"circle","filled":false,"size":1100,"strokeWidth":2.6,"strokeDash":[5,4],"color":"#1a2542","opacity":1},
 "encoding":{"x":{"datum":{"year":2024,"month":9,"date":8,"hours":0,"utc":true},"type":"temporal","scale":{"type":"utc"},"axis":null},"y":{"datum":25.9,"type":"quantitative","axis":null}}},
{"data":{"name":"arr"},
 "mark":{"type":"line","color":"#1a2542","strokeWidth":1.3,"interpolate":"basis"},
 "encoding":{"x":{"field":"t","type":"temporal","scale":{"type":"utc"},"axis":null},"y":{"field":"v","type":"quantitative","axis":null}}},
{"data":{"name":"arrh"},
 "mark":{"type":"line","color":"#1a2542","strokeWidth":1.3},
 "encoding":{"x":{"field":"t","type":"temporal","scale":{"type":"utc"},"axis":null},"y":{"field":"v","type":"quantitative","axis":null}}},
{"data":{"name":"one"},
 "mark":{"type":"text","align":"left","baseline":"top","fontSize":14,"lineHeight":16.5,"color":"#1a2542"},
 "encoding":{"x":{"datum":{"year":2024,"month":9,"date":8,"hours":2,"minutes":12,"utc":true},"type":"temporal","scale":{"type":"utc"},"axis":null},"y":{"datum":18.3,"type":"quantitative","axis":null},"text":{"value":["the candidates'","results are","swapped"]}}},
{"data":{"name":"titles"},
 "transform":[{"filter":"datum.p == 10"}],
 "mark":{"type":"text","align":"left","baseline":"middle","fontSize":15,"fontWeight":"bold"},
 "encoding":{"x":{"datum":{"year":2024,"month":9,"date":6,"hours":2,"minutes":36,"utc":true},"type":"temporal","scale":{"type":"utc"},"axis":null},"y":{"datum":52.5,"type":"quantitative","axis":null},"text":{"field":"s"},
  "color":{"field":"r","type":"nominal","scale":{"domain":["head","a","sep","b","o"],"range":["#1a2542","#cf3b41","#111111","#6db3ec","#cfcfd3"]},"legend":null}}}
]
},
{
"width":762,"height":144,
"resolve":{"axis":{"x":"independent","y":"independent"}},
"layer":[
{"data":{"name":"nights"},
 "mark":{"type":"rule","strokeDash":[7,5],"color":"#c6c6c6","strokeWidth":1.2},
 "encoding":{"x":{"field":"t","type":"temporal",
   "scale":{"type":"utc","domain":[{"year":2024,"month":9,"date":6,"hours":2,"minutes":40,"utc":true},{"year":2024,"month":9,"date":8,"hours":19,"minutes":53,"utc":true}]},"axis":null}}},
{"data":{"name":"nightlbl"},
 "mark":{"type":"text","color":"#bcbcbc","fontSize":12.5,"baseline":"middle"},
 "encoding":{"x":{"field":"t","type":"temporal","scale":{"type":"utc"},"axis":null},"y":{"datum":43,"type":"quantitative","axis":null},"text":{"field":"l"}}},
{"data":{"name":"c20"},
 "transform":[{"fold":["c","d","e"],"as":["k","v"]}],
 "mark":{"type":"line","color":"#d9d9de","strokeWidth":1.2},
 "encoding":{"x":{"field":"t","type":"temporal","scale":{"type":"utc"},"axis":null},"y":{"field":"v","type":"quantitative","axis":null},"detail":{"field":"k"}}},
{"data":{"name":"c20"},
 "mark":{"type":"line","color":"#6db3ec","strokeWidth":2.4,"strokeJoin":"round"},
 "encoding":{
  "x":{"field":"t","type":"temporal","scale":{"type":"utc"},
   "axis":{"orient":"bottom","values":[{"year":2024,"month":9,"date":6,"hours":12,"utc":true},{"year":2024,"month":9,"date":6,"hours":18,"utc":true},{"year":2024,"month":9,"date":7,"hours":0,"utc":true},{"year":2024,"month":9,"date":7,"hours":6,"utc":true},{"year":2024,"month":9,"date":7,"hours":12,"utc":true},{"year":2024,"month":9,"date":7,"hours":18,"utc":true},{"year":2024,"month":9,"date":8,"hours":0,"utc":true},{"year":2024,"month":9,"date":8,"hours":6,"utc":true},{"year":2024,"month":9,"date":8,"hours":12,"utc":true},{"year":2024,"month":9,"date":8,"hours":18,"utc":true}],
   "labelExpr":"utchours(datum.value) == 12 && utcdate(datum.value) == 6 ? '12:00' : utcFormat(datum.value, '%H')",
   "domainColor":"#2a2a2a","domainWidth":1.5,"tickColor":"#2a2a2a","tickSize":5,"tickWidth":1.2,"labelColor":"#858585","labelFontSize":12.5,"labelPadding":6,"grid":false,"title":null,"labelFlush":false}},
  "y":{"field":"b","type":"quantitative","scale":{"domain":[0,45]},
   "axis":{"values":[0,20,40],"labelExpr":"datum.value == 40 ? '40%' : datum.label","domain":false,"ticks":false,"tickSize":0,"labelAlign":"left","labelBaseline":"bottom","labelPadding":0,"labelOffset":-1,"labelColor":"#ababab","labelFontSize":12,"grid":true,"gridColor":"#e6e6e6","gridWidth":1,"title":"Candidates' result","titleColor":"#8a8a8a","titleFontSize":13.5,"titleFontWeight":"normal","titlePadding":9}}}},
{"data":{"name":"c20"},
 "mark":{"type":"line","color":"#cf3b41","strokeWidth":2.4,"strokeJoin":"round"},
 "encoding":{"x":{"field":"t","type":"temporal","scale":{"type":"utc"},"axis":null},"y":{"field":"a","type":"quantitative","axis":null}}},
{"data":{"name":"one"},
 "mark":{"type":"point","shape":"circle","filled":false,"size":1100,"strokeWidth":2.6,"strokeDash":[5,4],"color":"#1a2542","opacity":1},
 "encoding":{"x":{"datum":{"year":2024,"month":9,"date":7,"hours":22,"minutes":40,"utc":true},"type":"temporal","scale":{"type":"utc"},"axis":null},"y":{"datum":27.2,"type":"quantitative","axis":null}}},
{"data":{"name":"titles"},
 "transform":[{"filter":"datum.p == 20"}],
 "mark":{"type":"text","align":"left","baseline":"middle","fontSize":15,"fontWeight":"bold"},
 "encoding":{"x":{"datum":{"year":2024,"month":9,"date":6,"hours":2,"minutes":40,"utc":true},"type":"temporal","scale":{"type":"utc"},"axis":null},"y":{"datum":50.9,"type":"quantitative","axis":null},"text":{"field":"s"},
  "color":{"field":"r","type":"nominal","scale":{"domain":["head","a","sep","b","o"],"range":["#1a2542","#cf3b41","#111111","#6db3ec","#cfcfd3"]},"legend":null}}}
]
},
{
"width":762,"height":137,
"resolve":{"axis":{"x":"independent","y":"independent"}},
"layer":[
{"data":{"name":"nights"},
 "mark":{"type":"rule","strokeDash":[7,5],"color":"#c6c6c6","strokeWidth":1.2},
 "encoding":{"x":{"field":"t","type":"temporal",
   "scale":{"type":"utc","domain":[{"year":2024,"month":9,"date":6,"hours":2,"minutes":36,"utc":true},{"year":2024,"month":9,"date":8,"hours":20,"minutes":20,"utc":true}]},"axis":null}}},
{"data":{"name":"nightlbl"},
 "mark":{"type":"text","color":"#bcbcbc","fontSize":12.5,"baseline":"middle"},
 "encoding":{"x":{"field":"t","type":"temporal","scale":{"type":"utc"},"axis":null},"y":{"datum":43,"type":"quantitative","axis":null},"text":{"field":"l"}}},
{"data":{"name":"c44"},
 "transform":[{"fold":["c","d","e","f"],"as":["k","v"]}],
 "mark":{"type":"line","color":"#d9d9de","strokeWidth":1.2},
 "encoding":{"x":{"field":"t","type":"temporal","scale":{"type":"utc"},"axis":null},"y":{"field":"v","type":"quantitative","axis":null},"detail":{"field":"k"}}},
{"data":{"name":"c44"},
 "mark":{"type":"line","color":"#6db3ec","strokeWidth":2.4,"strokeJoin":"round"},
 "encoding":{
  "x":{"field":"t","type":"temporal","scale":{"type":"utc"},
   "axis":{"orient":"bottom","values":[{"year":2024,"month":9,"date":6,"hours":12,"utc":true},{"year":2024,"month":9,"date":6,"hours":18,"utc":true},{"year":2024,"month":9,"date":7,"hours":0,"utc":true},{"year":2024,"month":9,"date":7,"hours":6,"utc":true},{"year":2024,"month":9,"date":7,"hours":12,"utc":true},{"year":2024,"month":9,"date":7,"hours":18,"utc":true},{"year":2024,"month":9,"date":8,"hours":0,"utc":true},{"year":2024,"month":9,"date":8,"hours":6,"utc":true},{"year":2024,"month":9,"date":8,"hours":12,"utc":true},{"year":2024,"month":9,"date":8,"hours":18,"utc":true}],
   "labelExpr":"utchours(datum.value) == 12 && utcdate(datum.value) == 6 ? '12:00' : utcFormat(datum.value, '%H')",
   "domainColor":"#2a2a2a","domainWidth":1.5,"tickColor":"#2a2a2a","tickSize":5,"tickWidth":1.2,"labelColor":"#858585","labelFontSize":12.5,"labelPadding":6,"grid":false,"title":null,"labelFlush":false}},
  "y":{"field":"b","type":"quantitative","scale":{"domain":[0,45]},
   "axis":{"values":[0,20,40],"labelExpr":"datum.value == 40 ? '40%' : datum.label","domain":false,"ticks":false,"tickSize":0,"labelAlign":"left","labelBaseline":"bottom","labelPadding":0,"labelOffset":-1,"labelColor":"#ababab","labelFontSize":12,"grid":true,"gridColor":"#e6e6e6","gridWidth":1,"title":"Candidates' result","titleColor":"#8a8a8a","titleFontSize":13.5,"titleFontWeight":"normal","titlePadding":9}}}},
{"data":{"name":"c44"},
 "mark":{"type":"line","color":"#cf3b41","strokeWidth":2.4,"strokeJoin":"round"},
 "encoding":{"x":{"field":"t","type":"temporal","scale":{"type":"utc"},"axis":null},"y":{"field":"a","type":"quantitative","axis":null}}},
{"data":{"name":"one"},
 "mark":{"type":"point","shape":"circle","filled":false,"size":1100,"strokeWidth":2.6,"strokeDash":[5,4],"color":"#1a2542","opacity":1},
 "encoding":{"x":{"datum":{"year":2024,"month":9,"date":8,"hours":1,"minutes":30,"utc":true},"type":"temporal","scale":{"type":"utc"},"axis":null},"y":{"datum":26.9,"type":"quantitative","axis":null}}},
{"data":{"name":"titles"},
 "transform":[{"filter":"datum.p == 44"}],
 "mark":{"type":"text","align":"left","baseline":"middle","fontSize":15,"fontWeight":"bold"},
 "encoding":{"x":{"datum":{"year":2024,"month":9,"date":6,"hours":2,"minutes":36,"utc":true},"type":"temporal","scale":{"type":"utc"},"axis":null},"y":{"datum":50.9,"type":"quantitative","axis":null},"text":{"field":"s"},
  "color":{"field":"r","type":"nominal","scale":{"domain":["head","a","sep","b","o"],"range":["#1a2542","#cf3b41","#111111","#6db3ec","#cfcfd3"]},"legend":null}}}
]
}
]
}
